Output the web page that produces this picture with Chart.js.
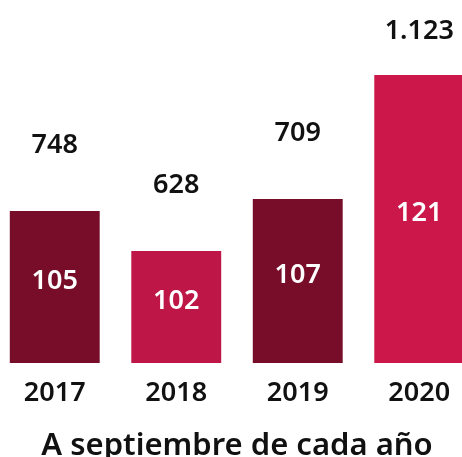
<!DOCTYPE html>
<html lang="es">
<head>
  <meta charset="UTF-8" />
  <title>A septiembre de cada año</title>
  <script src="https://cdn.jsdelivr.net/npm/chart.js"></script>
  <style>
    html, body { margin: 0; padding: 0; background: #fff; overflow: hidden; }
    #wrap { position: absolute; left: -6px; top: 0; width: 486px; height: 457px; }
  </style>
</head>
<body>
  <div id="wrap"><canvas id="chart"></canvas></div>

  <script>
    const years = ["2017", "2018", "2019", "2020"];
    // altura de las barras
    const barValues = [152, 112, 164, 288];
    // etiquetas encima y dentro de cada barra
    const topLabels = ["748", "628", "709", "1.123"];
    const innerLabels = ["105", "102", "107", "121"];
    const barColors = ["#770d28", "#be1647", "#770d28", "#cb174a"];

    const font = "'Noto Sans', sans-serif";

    // dibuja los numeros encima y dentro de las barras
    const barLabels = {
      id: "barLabels",
      afterDatasetsDraw(chart) {
        const ctx = chart.ctx;
        const meta = chart.getDatasetMeta(0);
        const minY = chart.chartArea.top + 31; // que no se salga por arriba
        ctx.save();
        ctx.font = "600 27px " + font;
        ctx.textAlign = "center";
        ctx.textBaseline = "middle";
        meta.data.forEach((bar, i) => {
          ctx.fillStyle = "#111";
          ctx.fillText(topLabels[i], bar.x, Math.max(bar.y - 66, minY));
          ctx.fillStyle = "#fff";
          ctx.fillText(innerLabels[i], bar.x, (bar.y + bar.base) / 2 - 6);
        });
        ctx.restore();
      }
    };

    new Chart(document.getElementById("chart"), {
      type: "bar",
      data: {
        labels: years,
        datasets: [{
          data: barValues,
          backgroundColor: barColors,
          barPercentage: 0.74,
          categoryPercentage: 1
        }]
      },
      options: {
        responsive: true,
        maintainAspectRatio: false,
        animation: false,
        layout: { padding: 0 },
        plugins: { legend: { display: false }, tooltip: { enabled: false } },
        scales: {
          y: { display: false, min: 0, max: 363 },
          x: {
            grid: { display: false, drawTicks: false },
            border: { display: false },
            ticks: { color: "#111", font: { family: font, size: 27, weight: "600" }, padding: 14 },
            title: {
              display: true,
              text: "A septiembre de cada año",
              color: "#111",
              font: { family: font, size: 31, weight: "600" },
              padding: { top: 0, bottom: -8 }
            },
            afterFit(scale) { scale.height = 94; }
          }
        }
      },
      plugins: [barLabels]
    });
  </script>
</body>
</html>
